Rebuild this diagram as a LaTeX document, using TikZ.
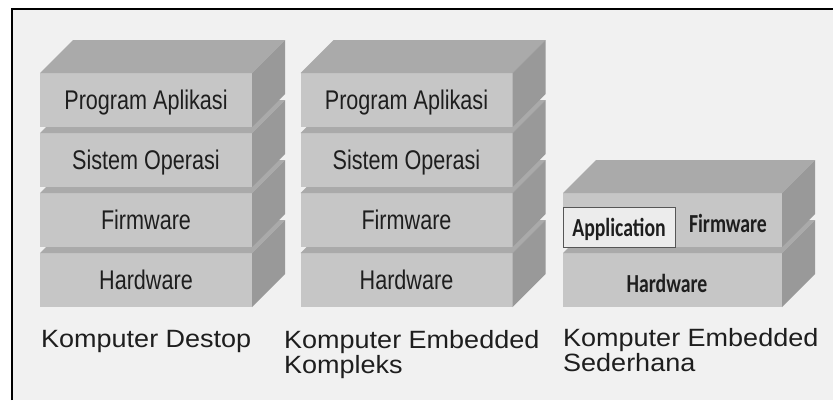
\documentclass[tikz,border=0pt]{standalone}
\usepackage{fontspec}
\setmainfont{Liberation Sans}
\newfontfamily\slabfont[FakeStretch=0.8]{Liberation Sans}
\newfontfamily\capfont[FakeStretch=1.08]{Liberation Sans}
\newfontfamily\slimfont[FakeStretch=0.76]{Carlito}
\definecolor{bggray}{HTML}{F1F1F1}
\definecolor{frontgray}{HTML}{C6C6C6}
\definecolor{topgray}{HTML}{AAAAAA}
\definecolor{sidegray}{HTML}{999999}
\definecolor{boxgray}{HTML}{ECECEC}
\definecolor{ink}{HTML}{1E1E1E}
\newcommand{\slabdepth}{33}
\newcommand{\slabheight}{54pt}
\newcommand{\stackwidth}{212pt}
\tikzstyle{slab}=[fill=frontgray, inner sep=0, outer sep=0, minimum height=\slabheight,
                  minimum width=\stackwidth, text=ink, text depth=0pt,
                  font=\slabfont\fontsize{27}{27}\selectfont]
\tikzstyle{slabtop}=[fill=topgray]
\tikzstyle{slabside}=[fill=sidegray]
\tikzstyle{slimtext}=[inner sep=0, text=ink, font=\slimfont\bfseries\fontsize{26}{26}\selectfont]
\tikzstyle{appbox}=[slimtext, fill=boxgray, draw=ink!75, line width=1pt, text depth=0pt,
                    minimum width=112pt, minimum height=40pt]
\tikzstyle{caption}=[anchor=north west, align=left, inner sep=0, text=ink,
                     font=\capfont\fontsize{25}{25}\selectfont]
% top and right faces of a slab, drawn from the anchors of its front node
\newcommand{\slabfaces}[1]{%
  \fill[slabtop] (#1.north west) -- (#1.north east) -- ++(\slabdepth,-\slabdepth)
                 -- ([shift={(\slabdepth,-\slabdepth)}]#1.north west) -- cycle;
  \fill[slabside] (#1.north east) -- ++(\slabdepth,-\slabdepth)
                  -- ([shift={(\slabdepth,-\slabdepth)}]#1.south east) -- (#1.south east) -- cycle;}
\begin{document}
\begin{tikzpicture}[x=1pt, y=-1pt]
        \useasboundingbox (0,0) rectangle (833,400);
        \fill[white] (0,0) rectangle (833,400);
        \fill[bggray] (12,9) rectangle (833,400);
        \draw[line width=2.5pt] (12,400) -- (12,9) -- (833,9);
        % desktop computer
        \node[slab] (d4) at (146,280) {Hardware};
        \slabfaces{d4}
        \node[slab] (d3) at (146,220) {Firmware};
        \slabfaces{d3}
        \node[slab] (d2) at (146,160) {Sistem Operasi};
        \slabfaces{d2}
        \node[slab] (d1) at (146,100) {Program Aplikasi};
        \slabfaces{d1}
        % complex embedded computer
        \node[slab] (k4) at (406.5,280) {Hardware};
        \slabfaces{k4}
        \node[slab] (k3) at (406.5,220) {Firmware};
        \slabfaces{k3}
        \node[slab] (k2) at (406.5,160) {Sistem Operasi};
        \slabfaces{k2}
        \node[slab] (k1) at (406.5,100) {Program Aplikasi};
        \slabfaces{k1}
        % simple embedded computer
        \node[slab, minimum width=219pt] (s2) at (672.5,280) {};
        \slabfaces{s2}
        \node[slimtext, anchor=base] (s2text) at (667,292) {Hardware};
        \node[slab, minimum width=219pt] (s1) at (672.5,220) {};
        \slabfaces{s1}
        \node[appbox] (app) at (619,227) {Application};
        \node[slimtext, anchor=base] (s1text) at (728,232) {Firmware};
        % captions
        \node[caption] (cap1) at (41,330) {Komputer Destop};
        \node[caption] (cap2) at (284,330) {Komputer Embedded\\Kompleks};
        \node[caption] (cap3) at (563,328) {Komputer Embedded\\Sederhana};
    \end{tikzpicture}
\end{document}
